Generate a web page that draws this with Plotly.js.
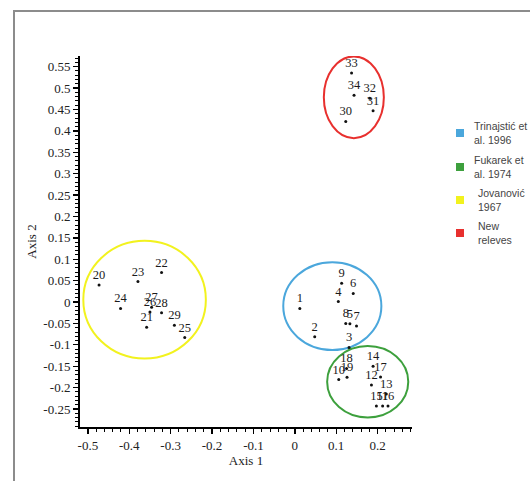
<!DOCTYPE html>
<html>
<head>
<meta charset="utf-8">
<script src="https://cdn.plot.ly/plotly-3.0.1.min.js"></script>
<style>
  html, body { margin: 0; padding: 0; background: #fff; }
  #wrap { position: relative; width: 530px; height: 481px; overflow: hidden; }
  #chart { width: 530px; height: 481px; }
  #frame {
    position: absolute; left: 13px; top: 10px; width: 600px; height: 600px;
    border-left: 2px solid #8c8c8c; border-top: 2px solid #8c8c8c;
    pointer-events: none;
  }
</style>
</head>
<body>
<div id="wrap">
  <div id="chart"></div>
  <div id="frame"></div>
</div>
<script>
// Ordination scores of the releves (Axis 1, Axis 2)
const releveLabels = ['1','2','3','4','5','6','7','8','9','10',
                      '11','12','13','14','15','16','17','18','19','20',
                      '21','22','23','24','25','26','27','28','29','30',
                      '31','32','33','34'];
const axis1Scores = [0.012, 0.048, 0.131, 0.105, 0.133, 0.141, 0.149, 0.123, 0.113, 0.106,
                     0.212, 0.185, 0.221, 0.189, 0.197, 0.225, 0.207, 0.125, 0.126, -0.473,
                     -0.358, -0.322, -0.379, -0.421, -0.266, -0.350, -0.346, -0.322, -0.291, 0.123,
                     0.189, 0.181, 0.137, 0.143];
const axis2Scores = [-0.015, -0.081, -0.106, 0.001, -0.051, 0.020, -0.056, -0.050, 0.044, -0.181,
                     -0.243, -0.194, -0.215, -0.150, -0.243, -0.243, -0.175, -0.155, -0.176, 0.040,
                     -0.059, 0.069, 0.048, -0.015, -0.083, -0.023, -0.012, -0.025, -0.054, 0.422,
                     0.447, 0.476, 0.535, 0.483];

// Source groups and the ellipse enclosing each group: [x0, x1, y0, y1]
const groupNames  = ['Trinajstić et<br>al. 1996', 'Fukarek et<br>al. 1974', 'Jovanović<br>1967', 'New<br>releves'];
const groupColors = ['#4ba7dc', '#3da03d', '#f2f21e', '#e8302e'];
const groupEllipses = [
  [-0.028, 0.209, -0.112, 0.093],
  [0.078, 0.274, -0.270, -0.103],
  [-0.511, -0.215, -0.132, 0.143],
  [0.070, 0.215, 0.383, 0.574]
];

// Axis ticks
const xTickVals = [-0.5, -0.4, -0.3, -0.2, -0.1, 0, 0.1, 0.2];
const xTickText = ['-0.5', '-0.4', '-0.3', '-0.2', '-0.1', '0', '0.1', '0.2'];
const yTickVals = [-0.25, -0.2, -0.15, -0.1, -0.05, 0, 0.05, 0.1, 0.15, 0.2, 0.25, 0.3, 0.35, 0.4, 0.45, 0.5, 0.55];
const yTickText = ['-0.25', '-0.2', '-0.15', '-0.1', '-0.05', '0', '0.05', '0.1', '0.15', '0.2', '0.25', '0.3', '0.35', '0.4', '0.45', '0.5', '0.55'];

const serif = 'Liberation Serif, Times New Roman, serif';
const sans = 'Liberation Sans, Arial, sans-serif';

// Plot area geometry (pixels) used to place the key beside the axes
const M = { l: 80, r: 118, t: 56, b: 54 };
const W = 530, H = 481;
const plotW = W - M.l - M.r, plotH = H - M.t - M.b;
const px2paperX = px => (px - M.l) / plotW;
const px2paperY = py => (H - M.b - py) / plotH;

const traces = [{
  type: 'scatter',
  mode: 'markers+text',
  x: axis1Scores,
  y: axis2Scores,
  text: releveLabels,
  textposition: 'top center',
  textfont: { family: serif, size: 12.5, color: '#1a1a1a' },
  marker: { size: 3, color: '#111' },
  showlegend: false,
  hoverinfo: 'skip',
  cliponaxis: false
}];

const shapes = groupEllipses.map((e, i) => ({
  type: 'circle',
  xref: 'x', yref: 'y',
  x0: e[0], x1: e[1], y0: e[2], y1: e[3],
  line: { color: groupColors[i], width: 2 },
  layer: 'below'
}));

// Key: a coloured square and a two-line caption per group
const keyRowY = [133, 167, 200, 233];
const keyTextX = [472, 472, 476, 476];
const annotations = [];
groupNames.forEach((name, i) => {
  const cy = keyRowY[i];
  shapes.push({
    type: 'rect', xref: 'paper', yref: 'paper',
    x0: px2paperX(456), x1: px2paperX(464),
    y0: px2paperY(cy + 4), y1: px2paperY(cy - 4),
    fillcolor: groupColors[i], line: { width: 0 }
  });
  annotations.push({
    xref: 'paper', yref: 'paper',
    x: px2paperX(keyTextX[i]), y: px2paperY(cy),
    xanchor: 'left', yanchor: 'middle', align: 'left',
    text: name, showarrow: false,
    font: { family: sans, size: 10.5, color: '#444' }
  });
});

const axisCommon = {
  showgrid: false,
  zeroline: false,
  showline: true,
  linecolor: '#000',
  linewidth: 2,
  ticks: 'outside',
  ticklen: 5,
  tickwidth: 1.3,
  tickcolor: '#000',
  tickfont: { family: serif, size: 13, color: '#222' },
  tickmode: 'array'
};

const layout = {
  width: W,
  height: H,
  margin: M,
  paper_bgcolor: '#fff',
  plot_bgcolor: '#fff',
  showlegend: false,
  xaxis: Object.assign({}, axisCommon, {
    range: [-0.519, 0.283],
    tickvals: xTickVals,
    ticktext: xTickText,
    minor: { tickmode: 'linear', tick0: 0, dtick: 0.02, ticks: 'outside', ticklen: 3, tickcolor: '#000', tickwidth: 1 },
    title: { text: 'Axis 1', font: { family: serif, size: 13, color: '#222' }, standoff: 4 }
  }),
  yaxis: Object.assign({}, axisCommon, {
    range: [-0.292, 0.575],
    tickvals: yTickVals,
    ticktext: yTickText,
    minor: { tickmode: 'linear', tick0: 0, dtick: 0.01, ticks: 'outside', ticklen: 3, tickcolor: '#000', tickwidth: 1 },
    title: { text: 'Axis 2', font: { family: serif, size: 13, color: '#222' }, standoff: 4 }
  }),
  shapes: shapes,
  annotations: annotations
};

Plotly.newPlot('chart', traces, layout, { displayModeBar: false, staticPlot: true });
</script>
</body>
</html>
